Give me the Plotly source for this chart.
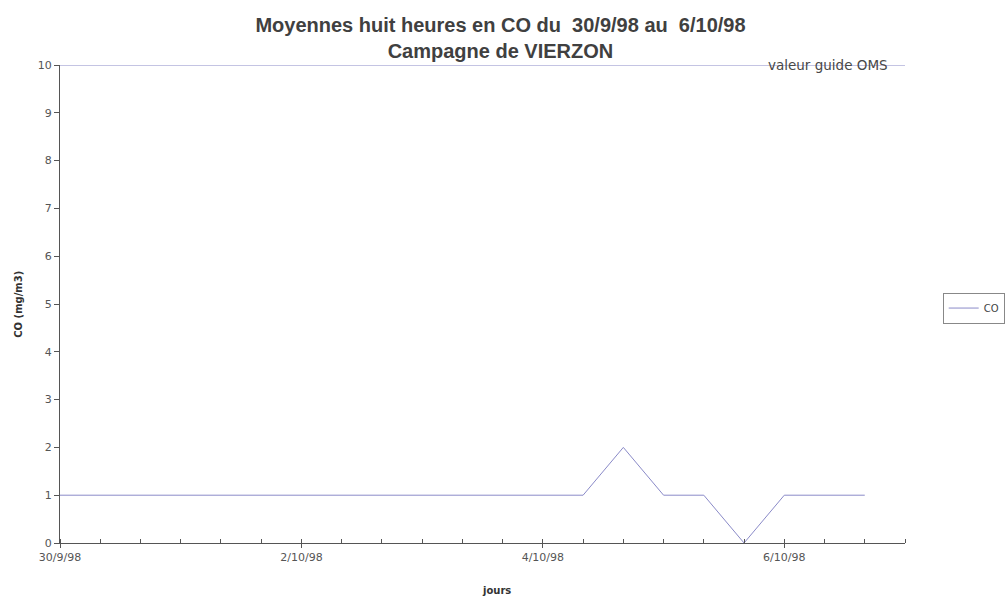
import plotly.graph_objects as go
from datetime import datetime, timedelta

# Data: 8-hour mean CO values (mg/m3), from 30/9/98 00h, every 8 hours
start = datetime(1998, 9, 30, 0, 0)
co_values = [1, 1, 1, 1, 1, 1, 1, 1, 1, 1, 1, 1, 1, 1, 2, 1, 1, 0, 1, 1, 1]
oms_values = [10] * 22  # valeur guide OMS across the whole axis
tick_labels = ["30/9/98", "2/10/98", "4/10/98", "6/10/98"]

co_dates = [start + timedelta(hours=8 * i) for i in range(len(co_values))]
oms_dates = [start + timedelta(hours=8 * i) for i in range(len(oms_values))]
tick_dates = [start + timedelta(hours=8 * i) for i in range(22)]
label_dates = [start + timedelta(days=2 * i) for i in range(len(tick_labels))]

line_color = "#8a8ac8"
title_font = "Liberation Sans, Arial, sans-serif"
label_font = "DejaVu Sans, Verdana, sans-serif"

fig = go.Figure()
fig.add_trace(go.Scatter(
    x=oms_dates, y=oms_values, mode="lines", name="valeur guide OMS",
    line=dict(color=line_color, width=1), showlegend=False, hoverinfo="skip"))
fig.add_trace(go.Scatter(
    x=co_dates, y=co_values, mode="lines", name="CO",
    line=dict(color=line_color, width=1)))

# label on the guide line
fig.add_annotation(
    x=0.909, y=10, xref="paper", yref="y", xanchor="center", yanchor="middle",
    text="valeur guide OMS", showarrow=False,
    font=dict(family=label_font, size=13.5, color="#484848"))

# axis titles
fig.add_annotation(
    x=-0.050, y=0.5, xref="paper", yref="paper", xanchor="center", yanchor="middle",
    textangle=-90, text="<b>CO (mg/m3)</b>", showarrow=False,
    font=dict(family=label_font, size=10, color="#333333"))
fig.add_annotation(
    x=0.517, y=-0.099, xref="paper", yref="paper", xanchor="center", yanchor="middle",
    text="<b>jours</b>", showarrow=False,
    font=dict(family=label_font, size=10, color="#333333"))

ticktext = [""] * 22
for d, lab in zip(label_dates, tick_labels):
    ticktext[tick_dates.index(d)] = lab

fig.update_layout(
    width=1005, height=597,
    paper_bgcolor="white", plot_bgcolor="white",
    margin=dict(l=60, r=100, t=65, b=54),
    title=dict(
        text="Moyennes huit heures en CO du  30/9/98 au  6/10/98<br>Campagne de VIERZON",
        x=0.498, xanchor="center", y=0.947, yanchor="top",
        font=dict(family=title_font, size=20, color="#404040", weight="bold")),
    font=dict(family=label_font, size=11, color="#444444"),
    legend=dict(
        xref="container", yref="container",
        x=0.938, xanchor="left", y=0.484, yanchor="middle",
        bordercolor="#888888", borderwidth=1, bgcolor="white",
        font=dict(size=10, color="#444444"), itemwidth=30,
        tracegroupgap=0),
    showlegend=True,
)

fig.update_xaxes(
    type="date", automargin=False,
    range=[start, start + timedelta(hours=8 * 21)],
    tickmode="array", tickvals=tick_dates, ticktext=ticktext,
    ticks="outside", ticklen=4, tickcolor="#555555", tickwidth=1,
    minor=dict(tickmode="array", tickvals=tick_dates, ticks="inside",
               ticklen=4, tickcolor="#555555", tickwidth=1, showgrid=False),
    showline=True, linecolor="#555555", linewidth=1,
    showgrid=False, zeroline=False,
    tickfont=dict(family=label_font, size=11, color="#555555"),
)
fig.update_yaxes(
    range=[0, 10], dtick=1, tick0=0, automargin=False,
    ticks="outside", ticklen=5, tickcolor="#555555", tickwidth=1,
    showline=True, linecolor="#555555", linewidth=1,
    showgrid=False, zeroline=False,
    tickfont=dict(family=label_font, size=11, color="#555555"),
)

fig.write_html("out.html", config={"displayModeBar": False},
               post_script="document.body.style.margin='0';")
